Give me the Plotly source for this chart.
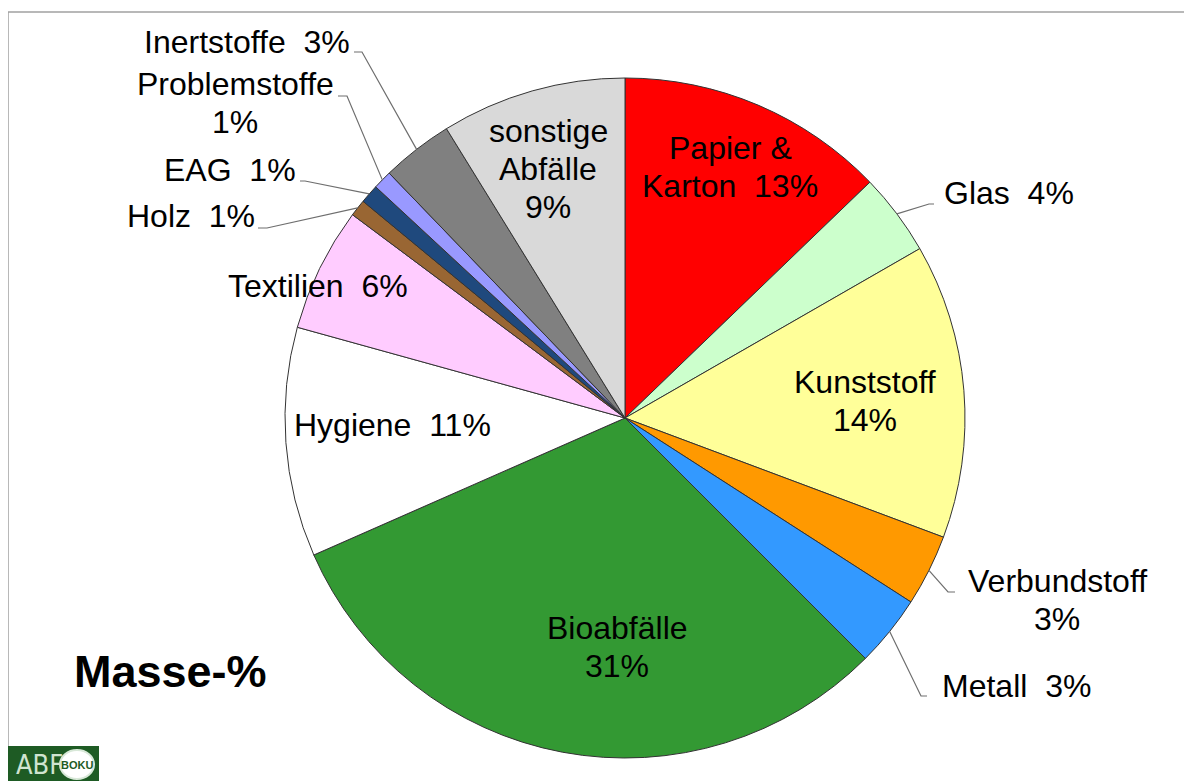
import math
import plotly.graph_objects as go

# ---------------- data ----------------
categories = ["Papier & Karton", "Glas", "Kunststoff", "Verbundstoff", "Metall",
              "Bioabfälle", "Hygiene", "Textilien", "Holz", "EAG",
              "Problemstoffe", "Inertstoffe", "sonstige Abfälle"]
values = [12.8, 3.9, 14.0, 3.4, 3.4, 30.9, 10.9, 5.9, 0.8, 0.9, 0.9, 3.4, 8.8]
label_names = ["Papier &<br>Karton", "Glas", "Kunststoff", "Verbundstoff", "Metall",
               "Bioabfälle", "Hygiene", "Textilien", "Holz", "EAG",
               "Problemstoffe", "Inertstoffe", "sonstige<br>Abfälle"]
label_seps = ["  ", "  ", "<br>", "<br>", "  ", "<br>", "  ", "  ", "  ", "  ",
              "<br>", "  ", "<br>"]
chart_title = "Masse-%"

# ---------------- styles / layout ----------------
colors = ["#FF0000", "#CCFFCC", "#FFFF99", "#FF9900", "#3399FF",
          "#339933", "#FFFFFF", "#FFCCFF", "#996633", "#1F497D",
          "#9999FF", "#808080", "#D9D9D9"]

W, H = 1192, 781
OFF = 8  # page body margin offset of the plot div
CX, CY, R = 625, 418, 340
FONT = "Liberation Sans, Arial, sans-serif"
FS = 32
LINE_H = 38

# label block centers (screen px) and anchors
label_pos = {
    "Papier & Karton": (730, 167, "center"),
    "Glas": (942, 193, "left"),
    "Kunststoff": (865, 401, "center"),
    "Verbundstoff": (1057, 600, "center"),
    "Metall": (940, 686, "left"),
    "Bioabfälle": (617, 647, "center"),
    "Hygiene": (392, 425, "center"),
    "Textilien": (318, 286, "center"),
    "Holz": (191, 216, "center"),
    "EAG": (230, 170, "center"),
    "Problemstoffe": (235, 103, "center"),
    "Inertstoffe": (247, 42, "center"),
    "sonstige Abfälle": (548, 169, "center"),
}
# leader lines: elbow point and end point (screen px) near the label
leaders = {
    "Glas": ((929, 204), (934, 204)),
    "Verbundstoff": ((948, 592), (955, 592)),
    "Metall": ((921, 696), (927, 696)),
    "Holz": ((267, 228), (258, 228)),
    "EAG": ((305, 181), (300, 181)),
    "Problemstoffe": ((347, 96), (338, 96)),
    "Inertstoffe": ((362, 52), (354, 52)),
}


def px(x):
    return (x - OFF) / W


def py(y):
    return 1 - (y - OFF) / H


fig = go.Figure(go.Pie(
    labels=categories,
    values=values,
    sort=False,
    direction="clockwise",
    rotation=0,
    textinfo="none",
    hoverinfo="label+percent",
    marker=dict(colors=colors, line=dict(color="#333333", width=1)),
    domain=dict(x=[px(CX - R), px(CX + R)], y=[py(CY + R), py(CY - R)]),
    showlegend=False,
))

total = sum(values)
annotations = []
shapes = []
cum = 0.0
for cat, v, name, sep in zip(categories, values, label_names, label_seps):
    mid = (cum + v / 2) / total * 2 * math.pi
    cum += v
    pct = f"{round(v / total * 100)}%"
    text = (name + sep + pct).replace("  ", "\u00a0\u00a0")
    lines = text.split("<br>")
    lx, ly, anchor = label_pos[cat]
    n = len(lines)
    for i, ln in enumerate(lines):
        yy = ly + (i - (n - 1) / 2) * LINE_H
        annotations.append(dict(
            x=px(lx), y=py(yy), xref="paper", yref="paper",
            text=ln, showarrow=False, xanchor=anchor, yanchor="middle",
            font=dict(family=FONT, size=FS, color="#000000"),
        ))
    if cat in leaders:
        sx = CX + R * math.sin(mid)
        sy = CY - R * math.cos(mid)
        (ex, ey), (tx, ty) = leaders[cat]
        path = (f"M {px(sx)} {py(sy)} L {px(ex)} {py(ey)} L {px(tx)} {py(ty)}")
        shapes.append(dict(type="path", path=path, xref="paper", yref="paper",
                           line=dict(color="#6E6E6E", width=1.2)))

# title "Masse-%"
annotations.append(dict(
    x=px(72), y=py(671), xref="paper", yref="paper", text=f"<b>{chart_title}</b>",
    showarrow=False, xanchor="left", yanchor="middle",
    font=dict(family=FONT, size=45, color="#000000"),
))

# frame lines
shapes.append(dict(type="line", xref="paper", yref="paper",
                   x0=px(8), y0=py(12), x1=px(W + OFF), y1=py(12),
                   line=dict(color="#A0A0A0", width=1.5)))
shapes.append(dict(type="line", xref="paper", yref="paper",
                   x0=px(8), y0=py(12), x1=px(8), y1=py(746),
                   line=dict(color="#A0A0A0", width=1.5)))

# logo block
shapes.append(dict(type="rect", xref="paper", yref="paper",
                   x0=px(8), y0=py(746), x1=px(99), y1=py(H),
                   fillcolor="#1E5B24", line=dict(width=0)))
shapes.append(dict(type="circle", xref="paper", yref="paper",
                   x0=px(60), y0=py(750), x1=px(94), y1=py(779),
                   fillcolor="#FFFFFF", line=dict(color="#D8E8D8", width=2)))
annotations.append(dict(
    x=px(14), y=py(764), xref="paper", yref="paper", text="ABF",
    showarrow=False, xanchor="left", yanchor="middle",
    font=dict(family="Liberation Sans Narrow, DejaVu Sans Condensed, sans-serif",
              size=27, color="#D0E4D0"),
))
annotations.append(dict(
    x=px(77), y=py(765), xref="paper", yref="paper", text="<b>BOKU</b>",
    showarrow=False, xanchor="center", yanchor="middle",
    font=dict(family="Liberation Sans Narrow, Liberation Sans, sans-serif",
              size=11, color="#1E5B24"),
))

fig.update_layout(
    width=W, height=H, autosize=False,
    margin=dict(l=0, r=0, t=0, b=0),
    paper_bgcolor="#FFFFFF", plot_bgcolor="#FFFFFF",
    annotations=annotations, shapes=shapes,
)

fig.write_html("out.html")
